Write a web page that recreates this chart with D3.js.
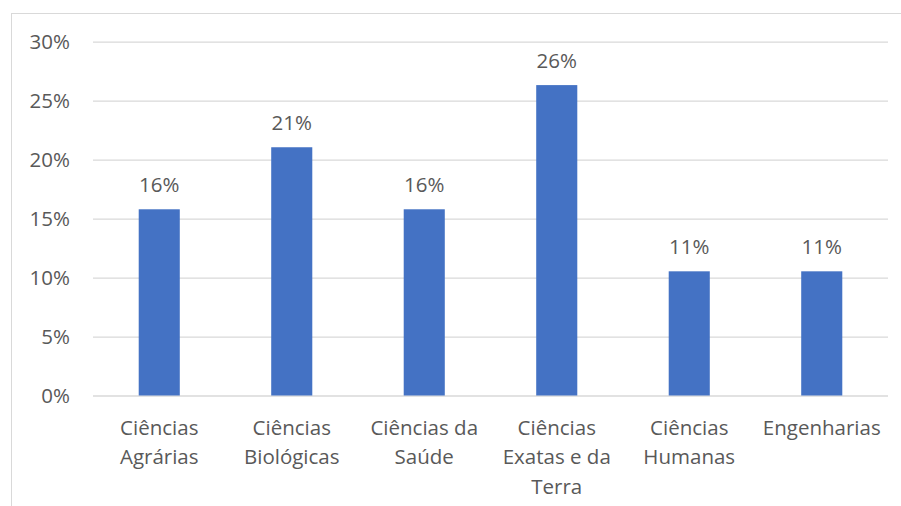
<!DOCTYPE html>
<html>
<head>
<meta charset="utf-8">
<script src="https://cdn.jsdelivr.net/npm/d3@7"></script>
<style>
  body { margin: 0; background: #fff; }
  text { font-family: "Open Sans", sans-serif; fill: #595959; }
</style>
</head>
<body>
<div id="chart"></div>
<script>
var categories = ["Ciências Agrárias", "Ciências Biológicas", "Ciências da Saúde",
                  "Ciências Exatas e da Terra", "Ciências Humanas", "Engenharias"];
var values = [0.1579, 0.2105, 0.1579, 0.2632, 0.1053, 0.1053];
var yTicks = [0, 0.05, 0.10, 0.15, 0.20, 0.25, 0.30];

var width = 901, height = 506;
var plotLeft = 93, plotRight = 888, plotTop = 41.7, plotBottom = 395.5;

var svg = d3.select("#chart").append("svg")
    .attr("width", width)
    .attr("height", height);

// chart frame (runs off the picture on the right and bottom)
svg.append("rect")
    .attr("x", 11.5).attr("y", 13.5)
    .attr("width", 1000).attr("height", 1000)
    .attr("fill", "none")
    .attr("stroke", "#d9d9d9");

var x = d3.scaleBand()
    .domain(categories)
    .range([plotLeft, plotRight])
    .paddingInner(0.69)
    .paddingOuter(0.345);

var y = d3.scaleLinear()
    .domain([0, 0.30])
    .range([plotBottom, plotTop]);

var fmt = d3.format(".0%");

// gridlines + y labels
var yAxis = svg.append("g")
    .attr("transform", `translate(${plotLeft},0)`)
    .call(d3.axisLeft(y).tickValues(yTicks).tickFormat(fmt)
        .tickSize(-(plotRight - plotLeft)).tickPadding(23));
yAxis.select(".domain").remove();
yAxis.selectAll(".tick line").attr("stroke", "#d9d9d9").attr("stroke-width", 1.3);
yAxis.selectAll(".tick text")
    .attr("font-family", "Open Sans")
    .attr("font-size", 20.5)
    .attr("fill", "#595959");

svg.append("g")
    .selectAll("rect")
    .data(values)
    .join("rect")
        .attr("x", (d, i) => x(categories[i]))
        .attr("y", d => y(d))
        .attr("width", x.bandwidth())
        .attr("height", d => plotBottom - y(d))
        .attr("fill", "#4472c4");

// value labels
svg.append("g")
    .attr("text-anchor", "middle")
    .style("font-size", "20.5px")
    .selectAll("text")
    .data(values)
    .join("text")
        .attr("x", (d, i) => x(categories[i]) + x.bandwidth() / 2)
        .attr("y", d => y(d) - 17)
        .text(d => fmt(d));

// category labels, wrapped to the band step
var xLab = svg.append("g")
    .attr("text-anchor", "middle")
    .style("font-size", "20.5px")
    .selectAll("text")
    .data(categories)
    .join("text")
        .attr("x", d => x(d) + x.bandwidth() / 2)
        .attr("y", 434.5);

xLab.each(function(d) {
    var t = d3.select(this);
    var words = d.split(" ");
    var line = [];
    var tspan = t.append("tspan").attr("x", t.attr("x")).attr("dy", 0);
    words.forEach(w => {
        line.push(w);
        tspan.text(line.join(" "));
        if (tspan.node().getComputedTextLength() > x.step() - 6 && line.length > 1) {
            line.pop();
            tspan.text(line.join(" "));
            line = [w];
            tspan = t.append("tspan").attr("x", t.attr("x")).attr("dy", 29.5).text(w);
        }
    });
});
</script>
</body>
</html>
